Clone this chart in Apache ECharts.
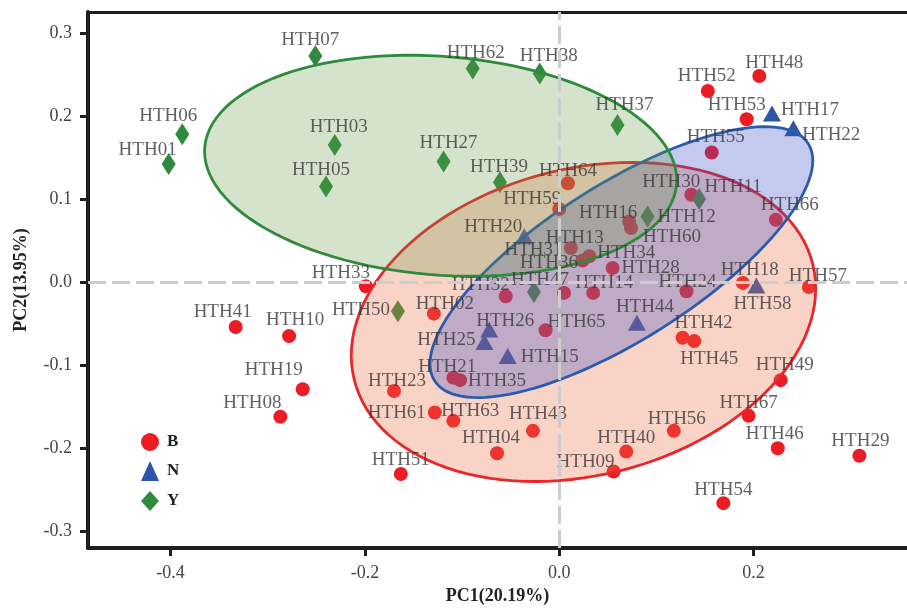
<!DOCTYPE html>
<html>
<head>
<meta charset="utf-8">
<script src="https://cdn.jsdelivr.net/npm/echarts@6/dist/echarts.min.js"></script>
<style>
  html, body { margin: 0; background: #fff; }
  #chart { width: 907px; height: 614px; }
</style>
</head>
<body>
<div id="chart"></div>
<script>
// group B (circles)
const namesB = ['HTH52','HTH48','HTH53','HTH55','HTH64','HTH59','HTH30','HTH66','HTH16','HTH60',
  'HTH13','HTH31','HTH34','HTH28','HTH14','HTH36','HTH32','HTH24','HTH18','HTH57',
  'HTH33','HTH02','HTH41','HTH10','HTH65','HTH42','HTH45','HTH49','HTH19','HTH08',
  'HTH23','HTH21','HTH35','HTH61','HTH63','HTH43','HTH04','HTH56','HTH67','HTH46',
  'HTH29','HTH40','HTH09','HTH54','HTH51']
const pc1B = [0.153, 0.206, 0.193, 0.157, 0.009, 0.000, 0.136, 0.223, 0.072, 0.074,
  0.012, 0.024, 0.031, 0.055, 0.035, 0.005, -0.055, 0.131, 0.189, 0.257,
  -0.199, -0.129, -0.333, -0.278, -0.014, 0.127, 0.139, 0.228, -0.264, -0.287,
  -0.170, -0.109, -0.102, -0.128, -0.109, -0.027, -0.064, 0.118, 0.195, 0.225,
  0.309, 0.069, 0.056, 0.169, -0.163]
const pc2B = [0.230, 0.248, 0.196, 0.156, 0.119, 0.088, 0.105, 0.075, 0.073, 0.065,
  0.041, 0.026, 0.031, 0.017, -0.013, -0.013, -0.017, -0.011, -0.001, -0.006,
  -0.005, -0.038, -0.054, -0.065, -0.058, -0.067, -0.071, -0.118, -0.129, -0.162,
  -0.131, -0.115, -0.118, -0.157, -0.167, -0.179, -0.206, -0.179, -0.161, -0.200,
  -0.209, -0.204, -0.228, -0.266, -0.231]

// group N (triangles)
const namesN = ['HTH17','HTH22','HTH20','HTH58','HTH44','HTH26','HTH25','HTH15']
const pc1N = [0.219, 0.241, -0.036, 0.203, 0.080, -0.072, -0.077, -0.053]
const pc2N = [0.203, 0.185, 0.055, -0.004, -0.049, -0.057, -0.072, -0.089]

// group Y (diamonds)
const namesY = ['HTH07','HTH62','HTH38','HTH06','HTH01','HTH03','HTH05','HTH27','HTH37','HTH39',
  'HTH11','HTH12','HTH47','HTH50']
const pc1Y = [-0.251, -0.089, -0.020, -0.388, -0.402, -0.231, -0.240, -0.119, 0.060, -0.061,
  0.144, 0.091, -0.026, -0.166]
const pc2Y = [0.272, 0.257, 0.251, 0.178, 0.142, 0.165, 0.115, 0.145, 0.189, 0.120,
  0.100, 0.079, -0.012, -0.035]

// ellipses (B, N, Y): centre, half extent on each axis, correlation
const ellCx  = [0.025, 0.064, -0.122]
const ellCy  = [-0.048, 0.024, 0.140]
const ellHx  = [0.239, 0.197, 0.243]
const ellHy  = [0.192, 0.163, 0.133]
const ellRho = [0.21, 0.75, -0.13]

const xTicks = [-0.4, -0.2, 0.0, 0.2]
const yTicks = [-0.3, -0.2, -0.1, 0.0, 0.1, 0.2, 0.3]

// label offsets (px) from point centre
const labelOffset = {
  HTH07:[-5,-16], HTH62:[3,-15], HTH38:[9,-17], HTH06:[-14,-18], HTH01:[-21,-14], HTH03:[4,-18],
  HTH05:[-5,-16], HTH27:[5,-19], HTH37:[7,-20], HTH39:[-1,-15], HTH11:[34,-12], HTH12:[39,1],
  HTH47:[6,-12], HTH50:[-37,-1],
  HTH17:[38,-3], HTH22:[38,7], HTH20:[-31,-9], HTH58:[6,19], HTH44:[8,-16], HTH26:[16,-8],
  HTH25:[-38,-2], HTH15:[42,1],
  HTH52:[-1,-15], HTH48:[15,-13], HTH53:[-10,-14], HTH55:[4,-15], HTH64:[0,-12], HTH59:[-27,-10],
  HTH30:[-20,-13], HTH66:[14,-15], HTH16:[-21,-8], HTH60:[41,9], HTH13:[4,-10], HTH31:[-49,-10],
  HTH34:[37,-3], HTH28:[38,0], HTH14:[11,-10], HTH36:[-15,-30], HTH32:[-25,-11], HTH24:[1,-9],
  HTH18:[7,-13], HTH57:[9,-11], HTH33:[-25,-13], HTH02:[11,-10], HTH41:[-13,-15], HTH10:[6,-16],
  HTH65:[31,-8], HTH42:[21,-15], HTH45:[15,18], HTH49:[4,-15], HTH19:[-29,-19], HTH08:[-28,-14],
  HTH23:[3,-10], HTH21:[-6,-11], HTH35:[37,1], HTH61:[-38,0], HTH63:[17,-10], HTH43:[5,-17],
  HTH04:[-6,-15], HTH56:[3,-12], HTH67:[0,-13], HTH46:[-3,-14], HTH29:[1,-15], HTH40:[0,-14],
  HTH09:[-28,-10], HTH54:[0,-13], HTH51:[0,-14]
}

const FONT = 'Liberation Serif'

const groups = [
  { name: 'B', names: namesB, xs: pc1B, ys: pc2B, symbol: 'circle', size: 14, color: '#ec1c24',
    stroke: '#e8262b', fill: 'rgba(240,110,70,0.3)' },
  { name: 'N', names: namesN, xs: pc1N, ys: pc2N, symbol: 'triangle', size: [18, 16], color: '#2b56a8',
    stroke: '#2b5cab', fill: 'rgba(60,80,200,0.3)' },
  { name: 'Y', names: namesY, xs: pc1Y, ys: pc2Y, symbol: 'diamond', size: [14, 22], color: '#2e8b3e',
    stroke: '#2f8a3c', fill: 'rgba(100,150,70,0.27)' }
]

// outline of ellipse i in data units
function ellipsePoints(i) {
  const phi = Math.acos(ellRho[i])
  const pts = []
  for (let k = 0; k <= 120; k++) {
    const t = k / 120 * Math.PI * 2
    pts.push([ellCx[i] + ellHx[i] * Math.cos(t), ellCy[i] + ellHy[i] * Math.cos(t - phi)])
  }
  return pts
}

const chart = echarts.init(document.getElementById('chart'))

const pointSeries = groups.map((g, gi) => ({
  name: g.name,
  type: 'scatter',
  z: 2,
  symbol: g.symbol,
  symbolSize: g.size,
  itemStyle: { color: g.color, opacity: 1 },
  data: g.xs.map((x, i) => ({ name: g.names[i], value: [x, g.ys[i]] })),
  markLine: gi === 0 ? {
    silent: true, symbol: 'none', label: { show: false }, animation: false,
    lineStyle: { color: '#cdcdcd', width: 3, type: [18, 6] },
    data: [{ xAxis: 0 }, { yAxis: 0 }]
  } : undefined
}))

const ellipseSeries = groups.map((g, gi) => {
  const pts = ellipsePoints(gi)
  return {
    type: 'custom',
    coordinateSystem: 'cartesian2d',
    silent: true,
    z: 3,
    data: [[ellCx[gi], ellCy[gi]]],
    renderItem: (params, api) => ({
      type: 'polygon',
      shape: { points: pts.map(p => api.coord(p)) },
      style: { fill: g.fill, stroke: g.stroke, lineWidth: 2.8 }
    })
  }
})

const labelData = []
groups.forEach(g => g.xs.forEach((x, i) => {
  labelData.push({ name: g.names[i], value: [x, g.ys[i]],
    label: { offset: labelOffset[g.names[i]] || [0, -14] } })
}))

const labelSeries = {
  type: 'scatter',
  z: 4,
  silent: true,
  symbolSize: 2,
  itemStyle: { color: 'rgba(0,0,0,0)' },
  label: {
    show: true, position: 'inside', formatter: '{b}',
    color: '#383838', fontFamily: FONT, fontSize: 19
  },
  data: labelData
}

const tickLabel = { color: '#444', fontFamily: FONT, fontSize: 18 }

chart.setOption({
  animation: false,
  backgroundColor: '#fff',
  grid: { left: 88, right: 0, top: 12, bottom: 66 },
  legend: {
    orient: 'vertical', left: 136, top: 428, itemGap: 10, itemWidth: 18, itemHeight: 20,
    data: ['B', 'N', 'Y'],
    textStyle: { fontFamily: FONT, fontSize: 17, fontWeight: 'bold', color: '#222', padding: [0, 0, 0, 3] }
  },
  xAxis: [{
    type: 'value', min: -0.485, max: 0.358,
    name: 'PC1(20.19%)', nameLocation: 'middle', nameGap: 38,
    nameTextStyle: { fontFamily: FONT, fontSize: 18, fontWeight: 'bold', color: '#222' },
    axisLine: { onZero: false, lineStyle: { color: '#1e1e1e', width: 4 } },
    axisTick: { length: 8, lineStyle: { color: '#1e1e1e', width: 3 }, customValues: xTicks },
    axisLabel: { ...tickLabel, margin: 16, customValues: xTicks, formatter: v => v.toFixed(1) },
    splitLine: { show: false }
  }, {
    type: 'value', position: 'top', min: -0.485, max: 0.358,
    axisLine: { show: true, onZero: false, lineStyle: { color: '#1e1e1e', width: 3 } },
    axisTick: { show: false }, axisLabel: { show: false }, splitLine: { show: false }
  }],
  yAxis: {
    type: 'value', min: -0.32, max: 0.325,
    name: 'PC2(13.95%)', nameLocation: 'middle', nameGap: 58,
    nameTextStyle: { fontFamily: FONT, fontSize: 18, fontWeight: 'bold', color: '#222' },
    axisLine: { show: true, onZero: false, lineStyle: { color: '#1e1e1e', width: 4 } },
    axisTick: { show: true, length: 8, lineStyle: { color: '#1e1e1e', width: 3 }, customValues: yTicks },
    axisLabel: { ...tickLabel, margin: 16, customValues: yTicks, formatter: v => v.toFixed(1) },
    splitLine: { show: false }
  },
  series: [...pointSeries, ...ellipseSeries, labelSeries]
})
</script>
</body>
</html>
